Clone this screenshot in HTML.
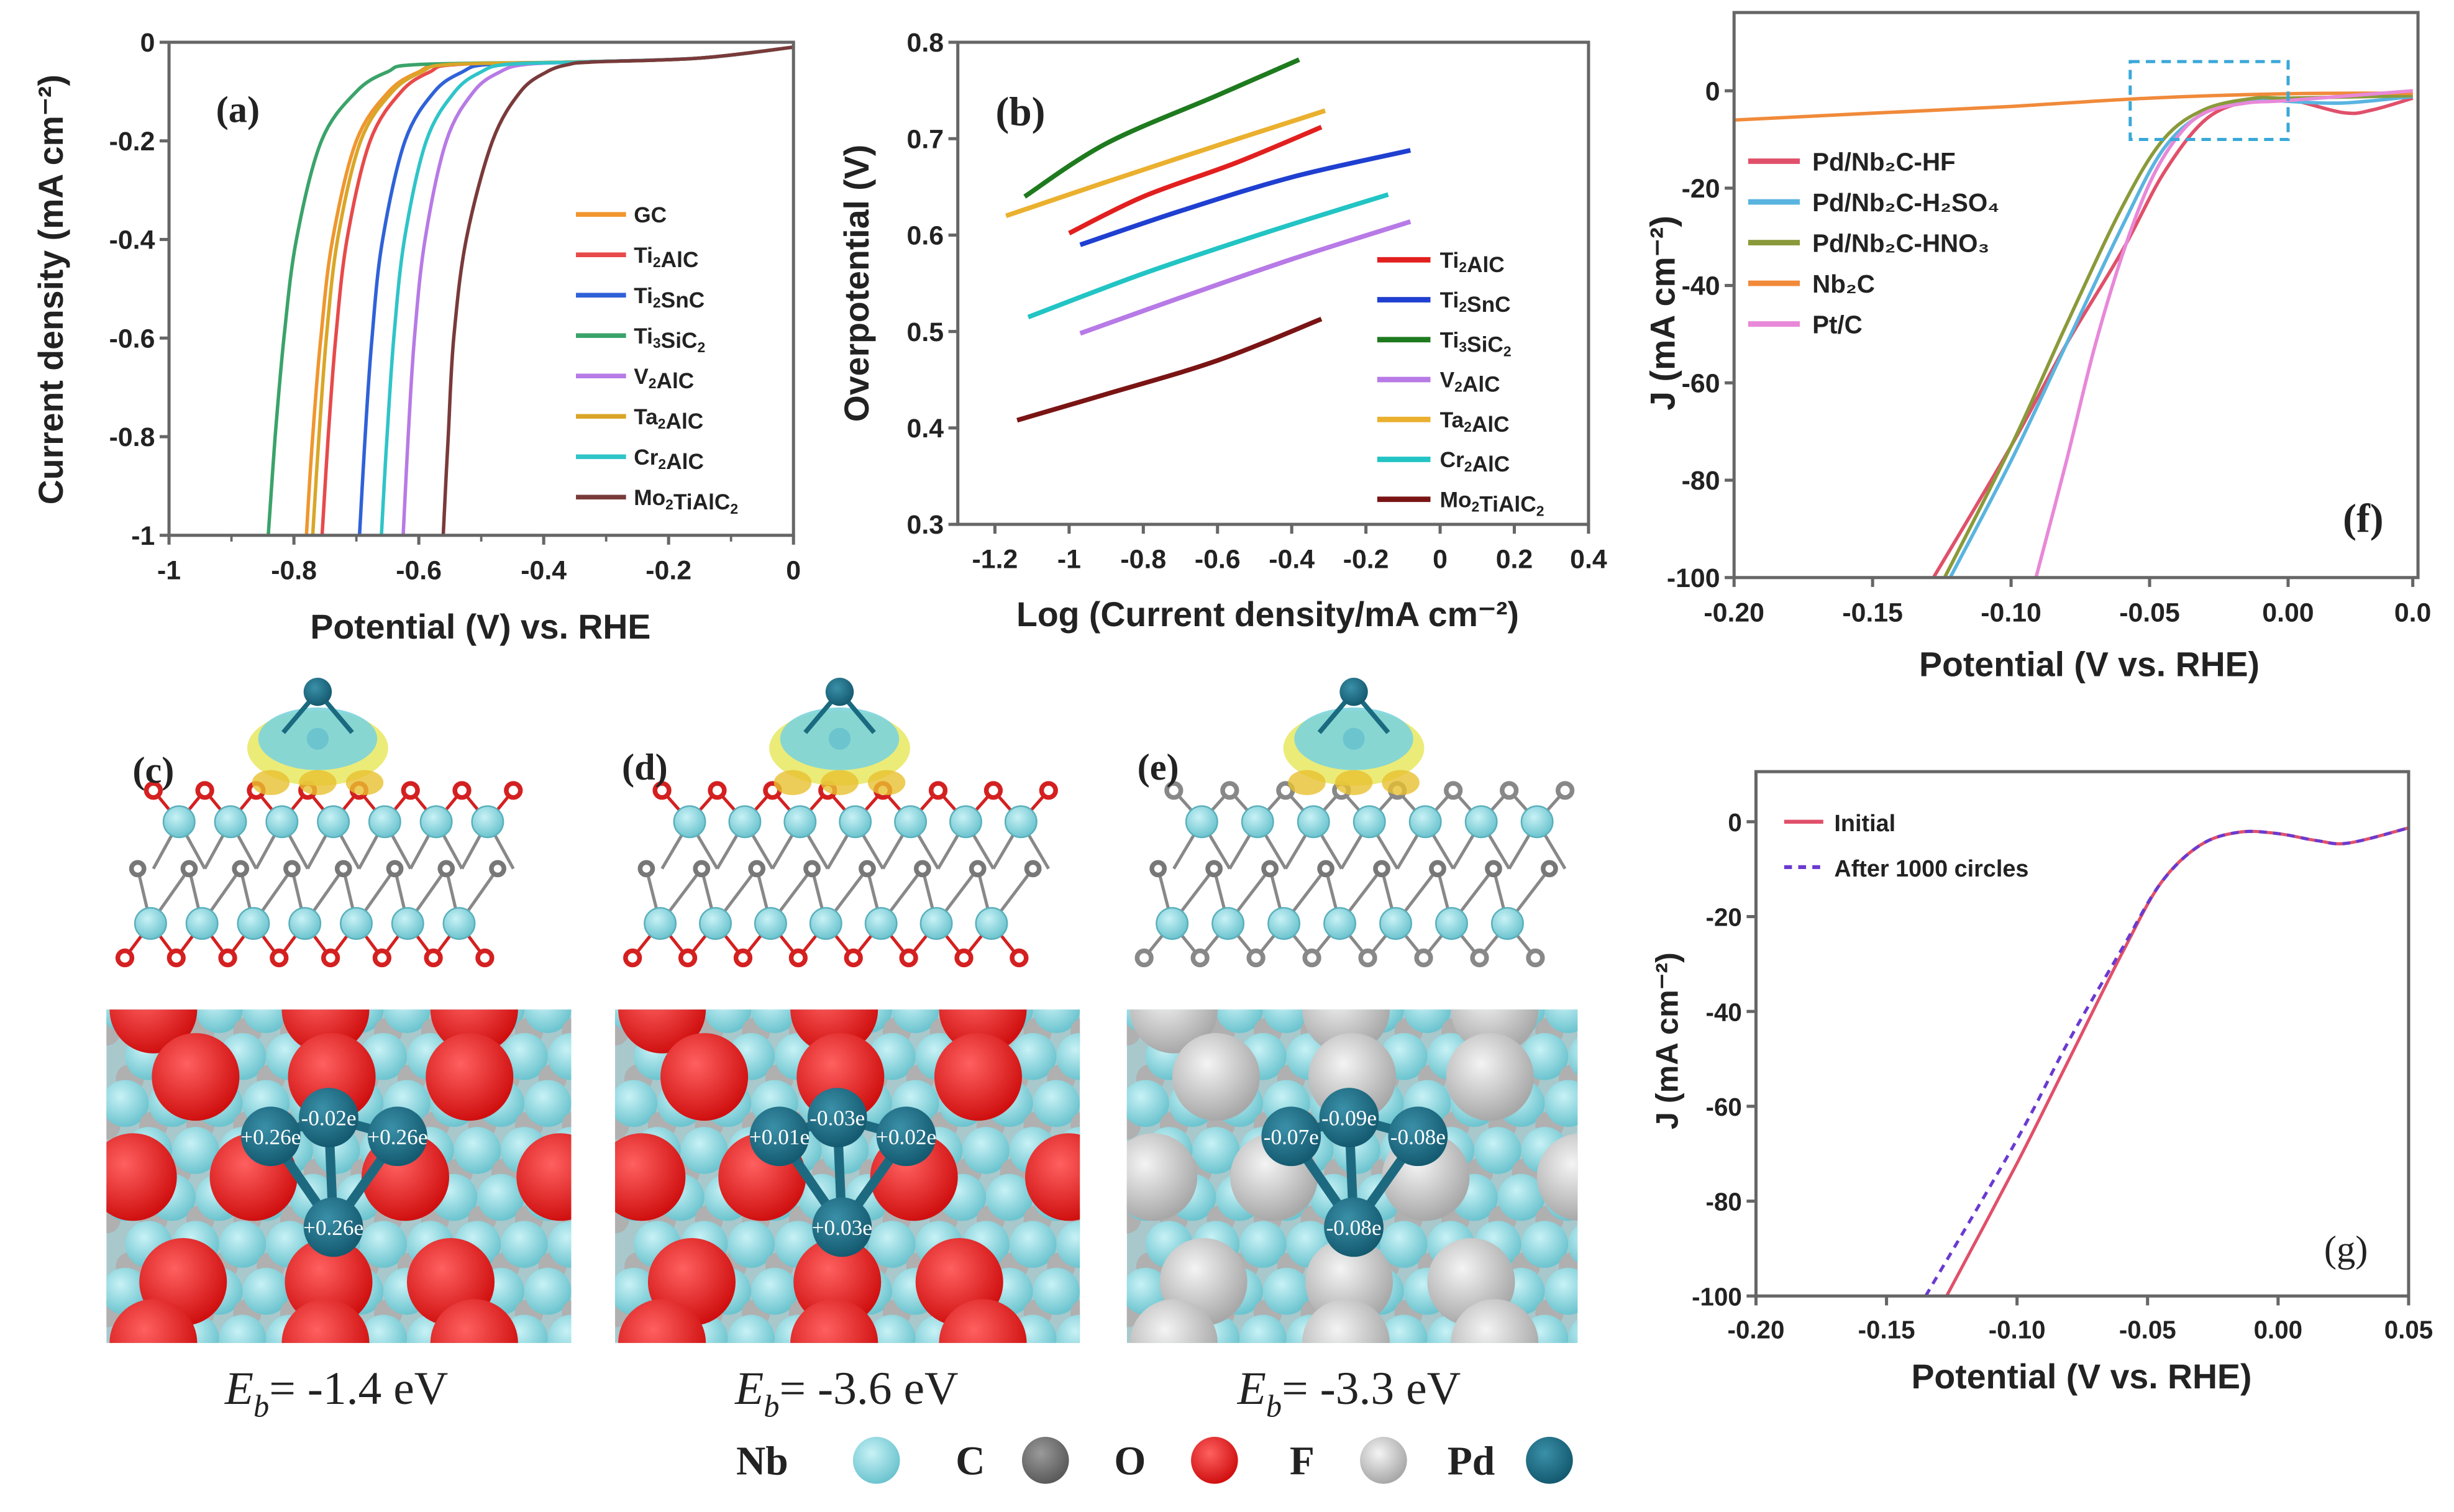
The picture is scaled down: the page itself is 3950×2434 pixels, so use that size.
<!DOCTYPE html>
<html><head><meta charset="utf-8"><style>
html,body{margin:0;padding:0;background:#fff;}
svg{display:block;}
.t{font-family:"Liberation Sans",sans-serif;font-weight:bold;fill:#222;}
.s{font-family:"Liberation Serif",serif;fill:#222;}
</style></head><body>
<svg id="fig" width="3950" height="2434" viewBox="0 0 1568 966" preserveAspectRatio="none" xmlns="http://www.w3.org/2000/svg"></svg>
<script>
// ---------- data (a) ----------
const aNames=['GC','Ti2AlC','Ti2SnC','Ti3SiC2','V2AlC','Ta2AlC','Cr2AlC','Mo2TiAlC2'];
const aColors=['#f0962e','#e84a4a','#2f62d8','#3aa36a','#b77ae6','#d9a628','#2fc4c8','#7a3a3a'];
const aJ=[-1,-0.8,-0.6,-0.4,-0.2,-0.1,-0.06,-0.045,-0.04,-0.032,-0.01];
const aGC=[-0.780,-0.770,-0.757,-0.738,-0.700,-0.648,-0.600,-0.555,-0.35,-0.15,0];
const aTi2AlC=[-0.755,-0.745,-0.733,-0.715,-0.678,-0.628,-0.582,-0.540,-0.35,-0.15,0];
const aTi2SnC=[-0.695,-0.686,-0.675,-0.658,-0.622,-0.575,-0.530,-0.490,-0.35,-0.15,0];
const aTi3SiC2=[-0.841,-0.830,-0.816,-0.796,-0.756,-0.700,-0.650,-0.600,-0.35,-0.15,0];
const aV2AlC=[-0.625,-0.617,-0.607,-0.590,-0.556,-0.512,-0.470,-0.430,-0.34,-0.15,0];
const aTa2AlC=[-0.770,-0.760,-0.748,-0.730,-0.693,-0.642,-0.595,-0.550,-0.35,-0.15,0];
const aCr2AlC=[-0.660,-0.651,-0.640,-0.623,-0.588,-0.542,-0.500,-0.460,-0.34,-0.15,0];
const aMo=[-0.561,-0.553,-0.544,-0.524,-0.482,-0.437,-0.395,-0.360,-0.32,-0.15,0];
const aSeries=[aGC,aTi2AlC,aTi2SnC,aTi3SiC2,aV2AlC,aTa2AlC,aCr2AlC,aMo];
const aXTicks=[-1,-0.8,-0.6,-0.4,-0.2,0];
const aXLabels=['-1','-0.8','-0.6','-0.4','-0.2','0'];
const aYTicks=[0,-0.2,-0.4,-0.6,-0.8,-1];
const aYLabels=['0','-0.2','-0.4','-0.6','-0.8','-1'];
// ---------- data (b) ----------
const bNames=['Ti2AlC','Ti2SnC','Ti3SiC2','V2AlC','Ta2AlC','Cr2AlC','Mo2TiAlC2'];
const bColors=['#e21f1f','#1f3fd0','#1e7a1e','#b77ae6','#eab02e','#22c4c4','#7a1414'];
const bRed=[[-1.0,0.602],[-0.8,0.64],[-0.55,0.675],[-0.32,0.712]];
const bBlue=[[-0.97,0.59],[-0.7,0.625],[-0.4,0.66],[-0.08,0.688]];
const bGreen=[[-1.12,0.64],[-0.9,0.695],[-0.6,0.745],[-0.38,0.782]];
const bPurple=[[-0.97,0.498],[-0.7,0.535],[-0.4,0.575],[-0.08,0.614]];
const bOrange=[[-1.17,0.62],[-0.9,0.655],[-0.6,0.693],[-0.31,0.729]];
const bCyan=[[-1.11,0.515],[-0.8,0.56],[-0.45,0.605],[-0.14,0.642]];
const bBrown=[[-1.14,0.408],[-0.9,0.435],[-0.6,0.47],[-0.32,0.513]];
const bSeries=[bRed,bBlue,bGreen,bPurple,bOrange,bCyan,bBrown];
const bXTicks=[-1.2,-1,-0.8,-0.6,-0.4,-0.2,0,0.2,0.4];
const bXLabels=['-1.2','-1','-0.8','-0.6','-0.4','-0.2','0','0.2','0.4'];
const bYTicks=[0.3,0.4,0.5,0.6,0.7,0.8];
const bYLabels=['0.3','0.4','0.5','0.6','0.7','0.8'];
// ---------- data (f) ----------
const fNames=['Pd/Nb₂C-HF','Pd/Nb₂C-H₂SO₄','Pd/Nb₂C-HNO₃','Nb₂C','Pt/C'];
const fColors=['#e0506a','#5ab4e0','#8a9a3a','#f08a3a','#e888d8'];
const fHF=[[-0.128,-100],[-0.10,-73],[-0.08,-52],[-0.06,-33],[-0.045,-17],[-0.03,-6],[-0.015,-2.2],[0,-1.8],[0.02,-4.5],[0.03,-4],[0.045,-1.5]];
const fH2SO4=[[-0.122,-100],[-0.10,-76],[-0.08,-52],[-0.06,-28],[-0.045,-12],[-0.03,-4.5],[-0.012,-1.8],[0,-2.2],[0.02,-2.5],[0.045,-1.2]];
const fHNO3=[[-0.124,-100],[-0.10,-73],[-0.08,-48],[-0.06,-24],[-0.045,-10],[-0.03,-3.8],[-0.012,-1.5],[0,-1.5],[0.045,-1]];
const fNb=[[-0.2,-6],[-0.15,-4.6],[-0.10,-3.2],[-0.05,-1.5],[0,-0.6],[0.045,-0.5]];
const fPt=[[-0.091,-100],[-0.08,-76],[-0.07,-53],[-0.06,-34],[-0.05,-19],[-0.04,-9.5],[-0.03,-4.5],[-0.015,-2.5],[0,-2],[0.045,0]];
const fSeries=[fHF,fH2SO4,fHNO3,fNb,fPt];
const fXTicks=[-0.2,-0.15,-0.1,-0.05,0,0.045];
const fXLabels=['-0.20','-0.15','-0.10','-0.05','0.00','0.0'];
const fYTicks=[0,-20,-40,-60,-80,-100];
const fYLabels=['0','-20','-40','-60','-80','-100'];
// ---------- data (g) ----------
const gNames=['Initial','After 1000 circles'];
const gInit=[[-0.127,-100],[-0.10,-72],[-0.08,-50],[-0.06,-28],[-0.045,-13],[-0.03,-5],[-0.015,-2.2],[0,-2.5],[0.015,-4],[0.027,-4.5],[0.05,-1.3]];
const gAfter=[[-0.135,-100],[-0.10,-67],[-0.08,-46],[-0.06,-27],[-0.045,-13],[-0.03,-5],[-0.015,-2.2],[0,-2.5],[0.015,-4],[0.027,-4.5],[0.05,-1.3]];
const gXTicks=[-0.2,-0.15,-0.1,-0.05,0,0.05];
const gXLabels=['-0.20','-0.15','-0.10','-0.05','0.00','0.05'];
const gYTicks=[0,-20,-40,-60,-80,-100];
const gYLabels=['0','-20','-40','-60','-80','-100'];

const NS='http://www.w3.org/2000/svg';
const svg=document.getElementById('fig');
function mk(tag,attrs,parent){const e=document.createElementNS(NS,tag);for(const k in attrs)e.setAttribute(k,attrs[k]);(parent||svg).appendChild(e);return e;}
function txt(s,x,y,size,cls,anchor,parent){const e=mk('text',{x:x,y:y,'font-size':size,class:cls,'text-anchor':anchor||'middle'},parent);e.textContent=s;return e;}
function lin(d0,d1,r0,r1){return v=>r0+(v-d0)/(d1-d0)*(r1-r0);}

function axes(g,X,Y,box,xt,xl,yt,yl,fs,xoff){
  mk('rect',{x:box[0],y:box[1],width:box[2]-box[0],height:box[3]-box[1],fill:'none',stroke:'#666','stroke-width':2},g);
  xt.forEach((v,i)=>{const x=X(v);mk('line',{x1:x,x2:x,y1:box[3],y2:box[3]+6,stroke:'#666','stroke-width':2},g);
    const t=txt(xl[i],x,box[3]+(xoff||28),fs,'t','middle',g);
    
    });
  yt.forEach((v,i)=>{const y=Y(v);mk('line',{x1:box[0]-6,x2:box[0],y1:y,y2:y,stroke:'#666','stroke-width':2},g);
    const t=txt(yl[i],box[0]-9,y+6,fs,'t','end',g);
    
    });
}
function path(g,pts,X,Y,color,w,dash){
  const P=pts.map(p=>[X(p[0]),Y(p[1])]);
  let d='M'+P[0][0].toFixed(1)+','+P[0][1].toFixed(1);
  for(let i=0;i<P.length-1;i++){
    const p0=P[Math.max(0,i-1)],p1=P[i],p2=P[i+1],p3=P[Math.min(P.length-1,i+2)];
    const c1=[p1[0]+(p2[0]-p0[0])/6,p1[1]+(p2[1]-p0[1])/6];
    const c2=[p2[0]-(p3[0]-p1[0])/6,p2[1]-(p3[1]-p1[1])/6];
    d+='C'+c1[0].toFixed(1)+','+c1[1].toFixed(1)+' '+c2[0].toFixed(1)+','+c2[1].toFixed(1)+' '+p2[0].toFixed(1)+','+p2[1].toFixed(1);
  }
  const p=mk('path',{d:d,fill:'none',stroke:color,'stroke-width':w,'stroke-linejoin':'round'},g);
  if(dash)p.setAttribute('stroke-dasharray',dash);
  return p;
}
function sub(name,s,x,y,fs,anchor,g){
  const t=mk('text',{x:x,y:y,'font-size':fs,class:'t','text-anchor':anchor||'start'},g);
  s.split(/(\d)/).forEach(part=>{if(!part)return;const ts=mk('tspan',{},t);
    if(/\d/.test(part)){ts.setAttribute('font-size',fs*0.65);ts.setAttribute('dy',fs*0.2);ts.textContent=part;
      const r=mk('tspan',{dy:-fs*0.2,'font-size':fs},t);r.textContent='';}
    else ts.textContent=part;});
  
  
  return t;
}

// ---------- panel a ----------
(function(){
const g=mk('g',{});


const box=[108,27,507,342];
const X=lin(-1,0,box[0],box[2]),Y=lin(0,-1,box[1],box[3]);
aSeries.forEach((s,i)=>{const p=path(g,s.map((v,k)=>[v,aJ[k]]),X,Y,aColors[i],2.2);
  
  });
axes(g,X,Y,box,aXTicks,aXLabels,aYTicks,aYLabels,17);
[-0.9,-0.7,-0.5,-0.3,-0.1].forEach(v=>mk('line',{x1:X(v),x2:X(v),y1:box[3],y2:box[3]+4,stroke:'#666','stroke-width':1.5},g));
const yl=txt('Current density (mA cm⁻²)',0,0,22,'t','middle',g);
yl.setAttribute('transform','translate(40,185) rotate(-90)');


const xl=txt('Potential (V) vs. RHE',307,408,22,'t','middle',g);


const lb=txt('(a)',152,78,24,'s','middle',g);lb.setAttribute('font-weight','bold');


aNames.forEach((n,i)=>{const y=137+i*25.8;
  const l=mk('line',{x1:368,x2:400,y1:y,y2:y,stroke:aColors[i],'stroke-width':3},g);
  
  
  sub('legend-entry',n,405,y+5,14,'start',g);});
})();

// ---------- panel b ----------
(function(){
const g=mk('g',{});


const box=[612,27,1015,335];
const X=lin(-1.3,0.4,box[0],box[2]),Y=lin(0.8,0.3,box[1],box[3]);
bSeries.forEach((s,i)=>{const p=path(g,s,X,Y,bColors[i],3);
  
  });
axes(g,X,Y,box,bXTicks,bXLabels,bYTicks,bYLabels,17);
const yl=txt('Overpotential (V)',0,0,22,'t','middle',g);
yl.setAttribute('transform','translate(555,181) rotate(-90)');


const xl=txt('Log (Current density/mA cm⁻²)',810,400,22,'t','middle',g);


const lb=txt('(b)',652,80,26,'s','middle',g);lb.setAttribute('font-weight','bold');


bNames.forEach((n,i)=>{const y=166+i*25.5;
  const l=mk('line',{x1:880,x2:914,y1:y,y2:y,stroke:bColors[i],'stroke-width':3.5},g);
  
  
  sub('legend-entry',n,920,y+5,14,'start',g);});
})();

// ---------- panel f ----------
(function(){
const g=mk('g',{});


const box=[1108,8,1545,369];
const X=lin(-0.2,0,1108,1462),Y=lin(0,-100,58,369);
fSeries.forEach((s,i)=>{const p=path(g,s,X,Y,fColors[i],2.2);
  
  });
axes(g,X,Y,box,fXTicks,fXLabels,fYTicks,fYLabels,17);
const r=mk('rect',{x:X(-0.057),y:Y(6),width:X(0)-X(-0.057),height:Y(-10)-Y(6),fill:'none',stroke:'#3aa8d8','stroke-width':2,'stroke-dasharray':'6,4'},g);


const yl=txt('J (mA cm⁻²)',0,0,22,'t','middle',g);
yl.setAttribute('transform','translate(1070,200) rotate(-90)');


const xl=txt('Potential (V vs. RHE)',1335,432,22,'t','middle',g);


const lb=txt('(f)',1510,340,26,'s','middle',g);lb.setAttribute('font-weight','bold');


fNames.forEach((n,i)=>{const y=103+i*26;
  const l=mk('line',{x1:1117,x2:1150,y1:y,y2:y,stroke:fColors[i],'stroke-width':3.5},g);
  
  
  const t=txt(n,1158,y+6,16,'t','start',g);
  
  });
})();

// ---------- panel g ----------
(function(){
const g=mk('g',{});


const box=[1122,493,1539,828];
const X=lin(-0.2,0.05,1122,1539),Y=lin(0,-100,525,828);
const p1=path(g,gInit,X,Y,'#e0506a',2);


const p2=path(g,gAfter,X,Y,'#6a3ad0',2,'5,4');


axes(g,X,Y,box,gXTicks,gXLabels,gYTicks,gYLabels,16,27);
const yl=txt('J (mA cm⁻²)',0,0,20,'t','middle',g);
yl.setAttribute('transform','translate(1072,665) rotate(-90)');


const xl=txt('Potential (V vs. RHE)',1330,887,22,'t','middle',g);


const lb=txt('(g)',1499,806,24,'s','middle',g);


[['Initial','#e0506a',''],['After 1000 circles','#6a3ad0','5,4']].forEach((e,i)=>{const y=525+i*29;
  const l=mk('line',{x1:1140,x2:1165,y1:y,y2:y,stroke:e[1],'stroke-width':2.5},g);
  if(e[2])l.setAttribute('stroke-dasharray',e[2]);
  
  
  const t=txt(gNames[i],1172,y+6,15,'t','start',g);
  
  });
})();

// ---------- molecular structure panels ----------
const defs=mk('defs',{});
[['gNb','#c8f2f6','#6cc4cf'],['gC','#9a9a9a','#5a5a5a'],['gO','#ff6060','#d01010'],['gF','#f4f4f4','#a8a8a8'],['gPd','#3a90a8','#145a70']].forEach(c=>{
  const rg=mk('radialGradient',{id:c[0],cx:'40%',cy:'35%',r:'65%'},defs);
  mk('stop',{offset:'0','stop-color':c[1]},rg);mk('stop',{offset:'1','stop-color':c[2]},rg);});

function sideView(x0,x1,term,name){
  const g=mk('g',{});
  
  
  const n=7,dx=(x1-x0-40)/n;
  const tc=term==='O'?'#d42020':'#888';
  const top=[],cr=[],bot=[];
  for(let i=0;i<n;i++){top.push(x0+30+dx*0.5+i*dx);bot.push(x0+20+i*dx+dx*0.25);}
  for(let i=0;i<=n;i++)cr.push(x0+20+i*dx);
  top.forEach(x=>{mk('line',{x1:x,y1:525,x2:x-dx/2,y2:505,stroke:tc,'stroke-width':2},g);mk('line',{x1:x,y1:525,x2:x+dx/2,y2:505,stroke:tc,'stroke-width':2},g);
    mk('line',{x1:x,y1:525,x2:x-dx/2,y2:555,stroke:'#888','stroke-width':2},g);mk('line',{x1:x,y1:525,x2:x+dx/2,y2:555,stroke:'#888','stroke-width':2},g);});
  bot.forEach(x=>{mk('line',{x1:x,y1:590,x2:x-dx/2,y2:612,stroke:tc,'stroke-width':2},g);mk('line',{x1:x,y1:590,x2:x+dx/2,y2:612,stroke:tc,'stroke-width':2},g);
    mk('line',{x1:x,y1:590,x2:x-dx/4,y2:555,stroke:'#888','stroke-width':2},g);mk('line',{x1:x,y1:590,x2:x+dx*0.75,y2:555,stroke:'#888','stroke-width':2},g);});
  top.forEach(x=>{mk('circle',{cx:x-dx/2,cy:505,r:4.5,fill:'#fff',stroke:tc,'stroke-width':3},g);});
  mk('circle',{cx:top[n-1]+dx/2,cy:505,r:4.5,fill:'#fff',stroke:tc,'stroke-width':3},g);
  cr.forEach(x=>mk('circle',{cx:x,cy:555,r:4,fill:'#fff',stroke:'#777','stroke-width':3},g));
  bot.forEach(x=>mk('circle',{cx:x-dx/2,cy:612,r:4.5,fill:'#fff',stroke:tc,'stroke-width':3},g));
  mk('circle',{cx:bot[n-1]+dx/2,cy:612,r:4.5,fill:'#fff',stroke:tc,'stroke-width':3},g);
  top.forEach(x=>mk('circle',{cx:x,cy:525,r:10,fill:'url(#gNb)',stroke:'#5ab0bc','stroke-width':1},g));
  bot.forEach(x=>mk('circle',{cx:x,cy:590,r:10,fill:'url(#gNb)',stroke:'#5ab0bc','stroke-width':1},g));
  const cx=(x0+x1)/2;
  mk('ellipse',{cx:cx,cy:478,rx:45,ry:24,fill:'#e8e860',opacity:0.85},g);
  mk('ellipse',{cx:cx,cy:472,rx:38,ry:20,fill:'#7cd4dc',opacity:0.9},g);
  mk('ellipse',{cx:cx-30,cy:500,rx:12,ry:8,fill:'#e8c030',opacity:0.8},g);
  mk('ellipse',{cx:cx+30,cy:500,rx:12,ry:8,fill:'#e8c030',opacity:0.8},g);
  mk('ellipse',{cx:cx,cy:500,rx:12,ry:8,fill:'#e8c030',opacity:0.8},g);
  mk('line',{x1:cx,y1:442,x2:cx-22,y2:468,stroke:'#1a6a80','stroke-width':3},g);
  mk('line',{x1:cx,y1:442,x2:cx+22,y2:468,stroke:'#1a6a80','stroke-width':3},g);
  mk('circle',{cx:cx,cy:442,r:9,fill:'url(#gPd)'},g);
  mk('circle',{cx:cx,cy:472,r:7,fill:'#6cc4cf'},g);
}
sideView(68,338,'O','structure-side-c');
sideView(393,680,'O','structure-side-d');
sideView(720,1010,'F','structure-side-e');

function topView(x0,x1,big,labels,name){
  const y0=645,y1=858;
  const g=mk('g',{});
  
  
  const cp=mk('clipPath',{id:'cp'+name},defs);
  mk('rect',{x:x0,y:y0,width:x1-x0,height:y1-y0},cp);
  const gg=mk('g',{'clip-path':'url(#cp'+name+')'},g);
  mk('rect',{x:x0,y:y0,width:x1-x0,height:y1-y0,fill:'#a8c8cc'},gg);
  for(let r=0;r<8;r++)for(let c=0;c<11;c++){
    mk('circle',{cx:x0+c*30+(r%2)*15,cy:y0+14+r*30,r:9,fill:'#b0b0b0'},gg);
    mk('circle',{cx:x0+12+c*30+(r%2)*15,cy:y0+r*30,r:15,fill:'url(#gNb)'},gg);
  }
  const bf=big==='O'?'url(#gO)':'url(#gF)';
  const rows=[[0,[30,140,235]],[43,[57,144,232]],[107,[17,94,191,290]],[174,[49,142,220]],[213,[30,140,235]]];
  rows.forEach(rw=>rw[1].forEach(ox=>mk('circle',{cx:x0+ox,cy:y0+rw[0],r:28,fill:bf},gg)));
  const cx=x0+148;
  const pos=[[cx-6,y0+69],[cx-43,y0+81],[cx+38,y0+81],[cx-3,y0+139]];
  [[0,1],[0,2],[1,3],[2,3],[0,3]].forEach(b=>mk('line',{x1:pos[b[0]][0],y1:pos[b[0]][1],x2:pos[b[1]][0],y2:pos[b[1]][1],stroke:'#1d6a80','stroke-width':6},gg));
  pos.forEach((p,i)=>{mk('circle',{cx:p[0],cy:p[1],r:19,fill:'url(#gPd)'},gg);
    const t=txt(labels[i],p[0],p[1]+5,14,'s','middle',gg);t.setAttribute('style','fill:#fff');
    
    });
}
topView(68,365,'O',['-0.02e','+0.26e','+0.26e','+0.26e'],'structure-top-c');
topView(393,690,'O',['-0.03e','+0.01e','+0.02e','+0.03e'],'structure-top-d');
topView(720,1008,'F',['-0.09e','-0.07e','-0.08e','-0.08e'],'structure-top-e');

[['(c)',98,500],['(d)',412,498],['(e)',740,498]].forEach(l=>{const t=txt(l[0],l[1],l[2],24,'s','middle');t.setAttribute('font-weight','bold');
  
  });

[['-1.4',215],['-3.6',541],['-3.3',862]].forEach(e=>{
  const t=mk('text',{x:e[1],y:897,'font-size':30,class:'s','text-anchor':'middle'});
  const a=mk('tspan',{'font-style':'italic'},t);a.textContent='E';
  const b=mk('tspan',{'font-style':'italic','font-size':20,dy:8},t);b.textContent='b';
  const c=mk('tspan',{dy:-8},t);c.textContent='= '+e[0]+' eV';
  
  });

[['Nb',487,560,'gNb'],['C',620,668,'gC'],['O',722,776,'gO'],['F',832,884,'gF'],['Pd',940,990,'gPd']].forEach(l=>{
  const t=txt(l[0],l[1],942,26,'s','middle');t.setAttribute('font-weight','bold');
  
  
  const c=mk('circle',{cx:l[2],cy:933,r:15,fill:'url(#'+l[3]+')'});
  
  });
</script>
</body></html>
